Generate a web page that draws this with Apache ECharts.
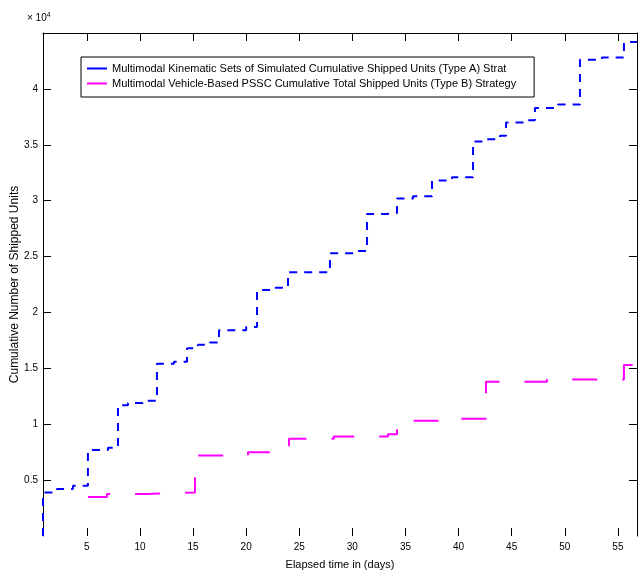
<!DOCTYPE html>
<html><head><meta charset="utf-8">
<script src="https://cdn.jsdelivr.net/npm/echarts@6/dist/echarts.min.js"></script>
<style>html,body{margin:0;padding:0;background:#fff}#c{width:640px;height:572px}</style>
</head><body><div id="c"></div>
<script>
const blueName = "Multimodal Kinematic Sets of Simulated Cumulative Shipped Units (Type A) Strat";
const pinkName = "Multimodal Vehicle-Based PSSC Cumulative Total Shipped Units (Type B) Strategy";
const blueX = [0.87, 0.87, 2.18, 3.69, 5.10, 6.99, 7.93, 8.87, 10.28, 11.60, 13.20, 14.43, 15.46, 16.59, 17.44, 20.0, 21.02, 22.52, 23.94, 27.89, 30.34, 31.38, 33.26, 34.20, 35.71, 37.50, 39.38, 41.36, 42.49, 43.90, 44.47, 46.16, 47.19, 49.36, 51.43, 53.50, 55.57, 56.8];
const blueY = [0, 3900, 4200, 4500, 7700, 7900, 11700, 11900, 12100, 15400, 15600, 16800, 17100, 17300, 18400, 18700, 22000, 22200, 23600, 25300, 25500, 28800, 28900, 30200, 30400, 31800, 32100, 35300, 35500, 35800, 37000, 37200, 38300, 38600, 42600, 42800, 44200, 44200];
const pinkX = [5.10, 6.89, 10.56, 15.18, 20.17, 24.03, 28.26, 33.35, 34.20, 39.00, 42.58, 48.32, 55.57, 56.8];
const pinkY = [3500, 3750, 3900, 7200, 7500, 8700, 8900, 9100, 10300, 10500, 13800, 14000, 15300, 15300];
const xTicks = [5, 10, 15, 20, 25, 30, 35, 40, 45, 50, 55];
const yTicks = [5000, 10000, 15000, 20000, 25000, 30000, 35000, 40000];
const xLabel = "Elapsed time in (days)";
const yLabel = "Cumulative Number of Shipped Units";
const xMin = 0.87, xMax = 56.8, yMin = 0, yMax = 45000;

const font = 'Liberation Sans, Arial, Helvetica, sans-serif';
const chart = echarts.init(document.getElementById('c'), null, {renderer: 'canvas'});
const zip = (xs, ys) => xs.map((x, i) => [x, ys[i]]);
const tickStyle = {inside: true, length: 8, lineStyle: {color: '#000', width: 1}};
const option = {
  animation: false,
  backgroundColor: '#fff',
  textStyle: {fontFamily: font},
  grid: {left: 43, right: 3, top: 33, bottom: 36, containLabel: false, outerBoundsMode: 'none'},
  xAxis: [
    {type: 'value', min: xMin, max: xMax, position: 'bottom',
     axisLine: {show: false},
     axisTick: Object.assign({customValues: xTicks}, tickStyle),
     axisLabel: {customValues: xTicks, color: '#000', fontSize: 10, margin: 6, fontFamily: font},
     splitLine: {show: false},
     name: xLabel, nameLocation: 'middle', nameGap: 23, nameMoveOverlap: false,
     nameTextStyle: {color: '#000', fontSize: 11, fontFamily: font}},
    {type: 'value', min: xMin, max: xMax, position: 'top',
     axisLine: {show: true, onZero: false, lineStyle: {color: '#000', width: 1}},
     axisTick: Object.assign({customValues: xTicks}, tickStyle),
     axisLabel: {show: false}, splitLine: {show: false}}
  ],
  yAxis: [
    {type: 'value', min: yMin, max: yMax, position: 'left',
     axisLine: {show: true, onZero: false, lineStyle: {color: '#000', width: 1}},
     axisTick: Object.assign({customValues: yTicks}, tickStyle),
     axisLabel: {customValues: yTicks, color: '#000', fontSize: 10, margin: 5, fontFamily: font,
                 formatter: v => String(+(v / 10000).toFixed(1))},
     splitLine: {show: false},
     name: yLabel, nameLocation: 'middle', nameGap: 22, nameRotate: 90, nameMoveOverlap: false,
     nameTextStyle: {color: '#000', fontSize: 12, fontFamily: font}},
    {type: 'value', min: yMin, max: yMax, position: 'right',
     axisLine: {show: true, onZero: false, lineStyle: {color: '#000', width: 1}},
     axisTick: Object.assign({customValues: yTicks}, tickStyle),
     axisLabel: {show: false}, splitLine: {show: false}}
  ],
  legend: {
    orient: 'vertical', left: 81, top: 57,
    borderColor: '#000', borderWidth: 1, borderRadius: 0,
    padding: [6, 18, 8, 6], itemGap: 4, itemWidth: 20, itemHeight: 2,
    icon: 'rect',
    textStyle: {color: '#000', fontSize: 11, fontFamily: font},
    data: [blueName, pinkName]
  },
  graphic: [{
    type: 'text', left: 27, top: 12,
    style: {text: '{a|× 10}{b|4}', rich: {a: {fontSize: 10, fill: '#000', fontFamily: font},
      b: {fontSize: 7, fill: '#000', verticalAlign: 'top', padding: [0, 0, 6, 0], fontFamily: font}}}
  }],
  series: [
    {name: blueName, type: 'line', step: 'end', symbol: 'none', data: zip(blueX, blueY),
     lineStyle: {color: '#0000ff', width: 2, type: [8, 7]}, itemStyle: {color: '#0000ff'}},
    {name: pinkName, type: 'line', step: 'end', symbol: 'none', data: zip(pinkX, pinkY),
     lineStyle: {color: '#ff00ff', width: 2, type: [25, 25]}, itemStyle: {color: '#ff00ff'}}
  ]
};
chart.setOption(option);
</script></body></html>
